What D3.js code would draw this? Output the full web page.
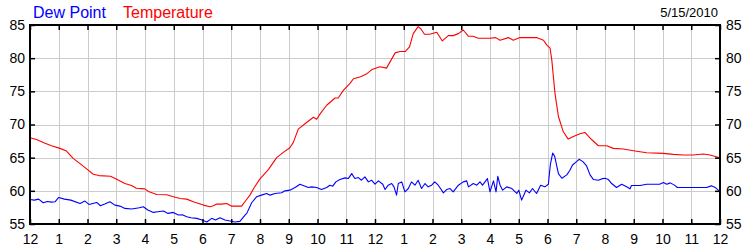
<!DOCTYPE html>
<html>
<head>
<meta charset="utf-8">
<script src="https://cdn.jsdelivr.net/npm/d3@7"></script>
<style>
  html, body { margin: 0; padding: 0; background: #fff; }
  svg { display: block; font-family: "Liberation Sans", Arial, sans-serif; }
</style>
</head>
<body>
<svg id="chart" width="750" height="250"></svg>
<script>
// ---- data ----
const dateLabel = "5/15/2010";
const seriesNames = ["Dew Point", "Temperature"];
const seriesColors = ["#0000ff", "#ff0000"];
const hourTicks = d3.range(0, 25);
const hourLabels = ["12","1","2","3","4","5","6","7","8","9","10","11","12","1","2","3","4","5","6","7","8","9","10","11","12"];
const yTicks = [55, 60, 65, 70, 75, 80, 85];

const tempHours = [0,0.25,0.5,0.75,1.04,1.27,1.5,1.74,1.97,2.2,2.4,2.8,3.0,3.3,3.53,3.7,3.99,4.12,4.41,4.75,4.99,5.22,5.45,5.68,6.03,6.26,6.38,6.49,6.67,6.84,7.0,7.36,7.5,7.65,7.8,8.0,8.29,8.58,8.81,9.04,9.16,9.33,9.62,9.86,9.97,10.09,10.32,10.61,10.72,10.9,11.13,11.25,11.5,11.7,11.9,12.17,12.4,12.7,12.87,13.05,13.2,13.33,13.5,13.6,13.72,13.9,14.15,14.34,14.55,14.72,14.9,15.07,15.25,15.41,15.59,16.0,16.2,16.35,16.64,16.81,17.04,17.62,17.86,17.97,18.09,18.15,18.26,18.38,18.55,18.72,18.9,19.13,19.3,19.54,19.77,20.06,20.29,20.64,20.99,21.45,22.03,22.38,22.73,23.07,23.42,23.65,24.0];
const tempValues = [68.0,67.7,67.2,66.8,66.4,66.0,64.9,64.1,63.3,62.5,62.3,62.2,61.8,61.1,60.8,60.4,60.3,59.9,59.45,59.4,59.1,58.85,58.75,58.35,57.85,57.6,57.75,58.0,58.0,58.1,57.7,57.7,58.5,59.35,60.5,61.8,63.2,65.0,65.8,66.5,67.3,69.3,70.3,71.1,70.8,71.6,72.9,74.0,74.0,75.15,76.2,76.9,77.2,77.6,78.3,78.7,78.5,80.8,81.0,81.0,81.7,83.7,84.75,84.4,83.6,83.6,83.9,82.6,83.4,83.4,83.7,84.25,83.3,83.3,83.0,83.0,83.1,82.7,83.1,82.7,83.1,83.1,82.7,82.0,81.5,79.7,74.7,71.2,68.9,67.8,68.2,68.6,68.8,67.7,66.8,66.8,66.4,66.3,66.05,65.75,65.65,65.5,65.4,65.4,65.55,65.4,65.0];

const dewHours = [0,0.15,0.3,0.46,0.6,0.75,0.87,1.0,1.2,1.42,1.74,1.91,2.05,2.32,2.45,2.6,2.78,2.95,3.13,3.3,3.54,3.8,3.94,4.1,4.29,4.45,4.64,4.8,4.98,5.16,5.3,5.45,5.6,5.8,5.98,6.15,6.32,6.45,6.61,6.78,6.96,7.13,7.3,7.48,7.54,7.71,7.88,8.05,8.23,8.35,8.52,8.75,8.87,9.04,9.22,9.39,9.57,9.68,9.8,9.97,10.14,10.32,10.43,10.53,10.64,10.78,10.96,11.07,11.19,11.3,11.42,11.53,11.65,11.77,11.88,12.0,12.12,12.27,12.35,12.46,12.58,12.66,12.75,12.81,12.93,13.04,13.16,13.27,13.39,13.5,13.62,13.74,13.85,13.97,14.08,14.2,14.38,14.49,14.61,14.72,14.9,15.07,15.19,15.25,15.42,15.54,15.65,15.74,15.91,16.0,16.12,16.21,16.27,16.35,16.44,16.58,16.76,16.93,17.0,17.1,17.25,17.37,17.48,17.62,17.76,17.91,18.03,18.1,18.18,18.25,18.38,18.5,18.67,18.78,18.87,19.01,19.1,19.23,19.36,19.48,19.6,19.77,19.88,20.0,20.12,20.23,20.4,20.58,20.72,20.87,20.92,21.22,21.45,21.9,22.03,22.15,22.27,22.4,22.52,23.53,23.7,23.82,23.94,24.0];
const dewValues = [58.7,58.6,58.75,58.2,58.4,58.3,58.35,59.0,58.75,58.6,58.1,58.45,57.95,58.25,57.75,58.0,58.35,57.85,57.7,57.35,57.25,57.45,57.6,57.1,56.75,56.85,56.95,56.6,56.75,56.35,56.4,56.1,55.95,55.85,55.6,55.3,55.85,55.6,55.95,55.6,55.45,55.3,55.4,56.35,56.6,58.2,59.1,59.35,59.6,59.35,59.6,59.7,60.0,60.1,60.5,61.0,60.7,60.5,60.6,60.5,60.2,60.5,60.85,60.7,61.35,61.7,61.95,61.85,62.6,61.85,62.0,61.6,62.1,61.35,61.6,61.0,61.5,61.0,60.2,60.85,61.1,60.6,59.35,61.1,61.35,59.85,60.35,61.35,60.85,61.6,60.35,61.1,60.6,60.85,61.35,60.85,59.7,60.2,60.35,59.85,60.85,61.35,61.5,60.6,61.1,60.85,61.35,60.85,61.85,59.85,61.5,59.85,62.2,60.85,60.1,60.6,60.35,59.6,60.1,58.6,60.1,59.7,60.35,59.6,60.85,60.6,61.0,64.0,65.7,65.2,62.6,61.9,62.4,63.1,63.9,64.4,64.75,64.4,63.75,62.4,61.7,61.6,61.8,61.9,61.7,61.1,60.5,61.0,60.7,60.3,60.8,60.8,61.0,61.0,61.25,61.0,61.2,60.9,60.5,60.5,60.75,60.55,60.1,60.0];

// ---- layout ----
const L = 30, R = 720, T = 25, B = 224;
const svg = d3.select("#chart");
svg.append("rect").attr("width", 750).attr("height", 250).attr("fill", "#fff");

const x = d3.scaleLinear().domain([0, 24]).range([L, R]);
const y = d3.scaleLinear().domain([55, 85]).range([B, T]);

// grid
const grid = svg.append("g").attr("stroke", "#cccccc").attr("stroke-width", 1).attr("shape-rendering", "crispEdges");
grid.selectAll("line.v").data(hourTicks.slice(1, -1)).join("line")
  .attr("x1", d => Math.round(x(d)) + 0.5).attr("x2", d => Math.round(x(d)) + 0.5)
  .attr("y1", T).attr("y2", B);
grid.selectAll("line.h").data(yTicks.slice(1, -1)).join("line")
  .attr("y1", d => Math.round(y(d)) + 0.5).attr("y2", d => Math.round(y(d)) + 0.5)
  .attr("x1", L).attr("x2", R);

// lines
const line = d3.line().x(d => x(d[0])).y(d => y(d[1]));
const dewData = dewHours.map((h, i) => [h, dewValues[i]]);
const tempData = tempHours.map((h, i) => [h, tempValues[i]]);
svg.append("path").datum(dewData).attr("d", line).attr("fill", "none")
  .attr("stroke", seriesColors[0]).attr("stroke-width", 1.1).attr("stroke-linejoin", "round");
svg.append("path").datum(tempData).attr("d", line).attr("fill", "none")
  .attr("stroke", seriesColors[1]).attr("stroke-width", 1.1).attr("stroke-linejoin", "round");

// axes
function styleAxis(g) {
  g.selectAll(".domain").remove();
  g.selectAll(".tick line").attr("stroke", "#000").attr("stroke-width", 1.5);
  g.selectAll(".tick text").attr("fill", "#000").attr("font-size", 14)
    .attr("font-family", '"Liberation Sans", Arial, sans-serif');
}
svg.append("g").attr("transform", `translate(0,${B})`)
  .call(d3.axisBottom(x).tickValues(hourTicks).tickFormat((d, i) => hourLabels[i]).tickSize(-5).tickSizeOuter(0).tickPadding(10))
  .call(styleAxis);
svg.append("g").attr("transform", `translate(0,${T})`)
  .call(d3.axisTop(x).tickValues(hourTicks).tickFormat("").tickSize(-5).tickSizeOuter(0))
  .call(styleAxis);
svg.append("g").attr("transform", `translate(${L},0)`)
  .call(d3.axisLeft(y).tickValues(yTicks).tickSize(-5).tickSizeOuter(0).tickPadding(5))
  .call(styleAxis);
svg.append("g").attr("transform", `translate(${R},0)`)
  .call(d3.axisRight(y).tickValues(yTicks).tickSize(-5).tickSizeOuter(0).tickPadding(6))
  .call(styleAxis);

// frame
svg.append("rect").attr("x", L).attr("y", T).attr("width", R - L).attr("height", B - T)
  .attr("fill", "none").attr("stroke", "#000").attr("stroke-width", 2);

// legend / title
svg.append("text").attr("x", 33).attr("y", 18).attr("font-size", 16).attr("fill", seriesColors[0]).text(seriesNames[0]);
svg.append("text").attr("x", 123).attr("y", 18).attr("font-size", 16).attr("fill", seriesColors[1]).text(seriesNames[1]);
svg.append("text").attr("x", 718).attr("y", 17).attr("font-size", 13).attr("fill", "#000").attr("text-anchor", "end").text(dateLabel);
</script>
</body>
</html>
